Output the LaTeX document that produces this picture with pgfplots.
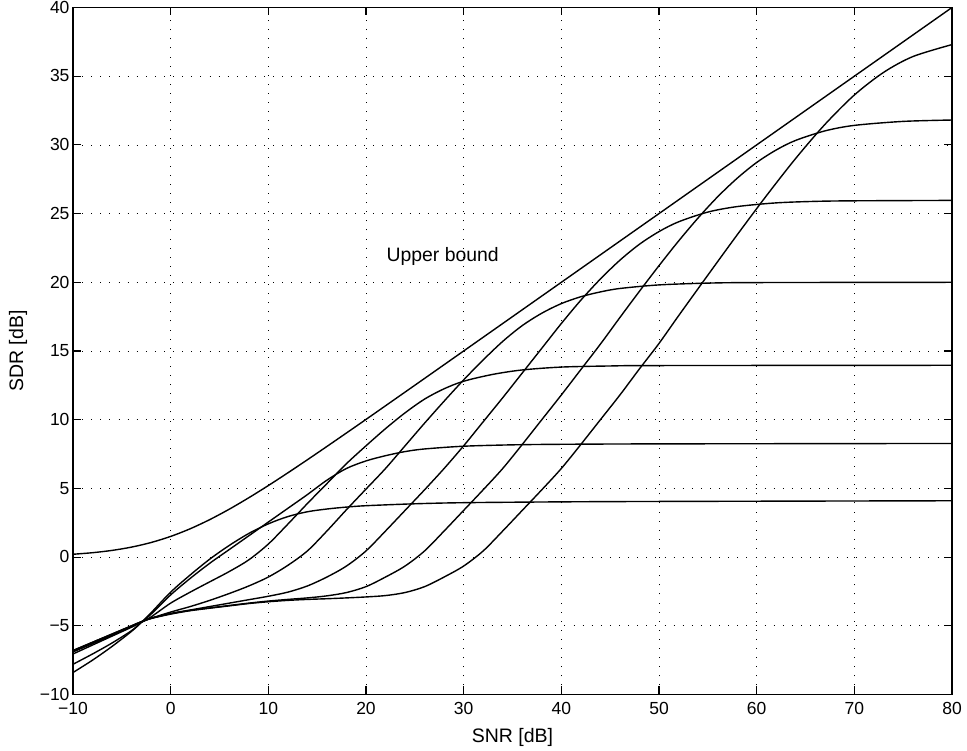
\documentclass[border=0pt]{standalone}
\usepackage{fontspec}
\setmainfont{Liberation Sans}
\usepackage{pgfplots}
\pgfplotsset{compat=1.18}
\begin{document}
\begin{tikzpicture}
\begin{axis}[
  scale only axis, width=879pt, height=687pt,
  xmin=-10, xmax=80, ymin=-10, ymax=40,
  xtick={-10,0,10,20,30,40,50,60,70,80},
  ytick={-10,-5,0,5,10,15,20,25,30,35,40},
  xticklabels={−10,0,10,20,30,40,50,60,70,80},
  yticklabels={−10,−5,0,5,10,15,20,25,30,35,40},
  tick align=inside, major tick length=8pt,
  grid=major,
  grid style={black, line width=0.75pt, dash pattern=on 0.9pt off 8.2pt},
  axis line style={line width=1.1pt},
  every tick/.style={black, line width=1.1pt},
  tick label style={font=\fontsize{17.5}{18}\selectfont},
  xticklabel style={inner xsep=0pt, inner ysep=3pt, yshift=-5pt},
  yticklabel style={inner ysep=0pt, yshift=0.3pt},
  xlabel={SNR [dB]}, ylabel={SDR [dB]},
  label style={font=\fontsize{19.5}{20}\selectfont, inner sep=0pt},
  xlabel style={at={(axis description cs:0.5,-0.0626)}, anchor=center},
  ylabel style={at={(axis description cs:-0.0626,0.5)}, anchor=center},
  curve/.style={black, solid, line width=1.4pt, mark=none, smooth, tension=0.5},
  clip=true,
]
% Upper bound
\addplot[curve] coordinates {(-10,0.207) (-8,0.320) (-6,0.487) (-4,0.728) (-2,1.062) (0,1.505) (2,2.062) (4,2.728) (6,3.487) (8,4.320) (10,5.207) (12,6.133) (14,7.085) (16,8.054) (18,9.034) (20,10.02) (25,12.507) (30,15.002) (40,20) (50,25) (60,30) (70,35) (80,40)};
% A (sat 4.1)
\addplot[curve] coordinates {(-10,-8.4) (-8,-7.5) (-6,-6.5) (-4,-5.4) (-3,-4.75) (-2,-4.05) (0,-2.55) (2,-1.3) (4,-0.15) (6,0.85) (8,1.72) (10,2.42) (12,2.95) (14,3.3) (16,3.5) (18,3.64) (20,3.74) (25,3.88) (30,3.96) (40,4.02) (50,4.05) (80,4.1)};
% B (sat 8.3)
\addplot[curve] coordinates {(-10,-7.8) (-8,-7.05) (-6,-6.25) (-4,-5.35) (-3,-4.75) (-2,-4.15) (0,-2.75) (2,-1.55) (4,-0.45) (6,0.55) (8,1.55) (10,2.55) (12,3.55) (14,4.55) (16,5.6) (18,6.45) (20,7.0) (22,7.38) (24,7.68) (26,7.87) (30,8.07) (35,8.17) (40,8.21) (50,8.24) (80,8.27)};
% C (sat 14)
\addplot[curve] coordinates {(-10,-7.05) (-8,-6.4) (-6,-5.75) (-4,-5.1) (-3,-4.75) (-2,-4.35) (0,-3.35) (2,-2.55) (4,-1.8) (6,-1.05) (8,-0.2) (10,0.95) (12,2.4) (14,3.9) (16,5.35) (18,6.8) (20,8.1) (22,9.35) (24,10.5) (26,11.5) (28,12.25) (30,12.8) (33,13.3) (36,13.62) (40,13.83) (45,13.91) (50,13.94) (80,13.96)};
% D (sat 20)
\addplot[curve] coordinates {(-10,-6.9) (-8,-6.3) (-6,-5.7) (-4,-5.05) (-3,-4.72) (-2,-4.45) (0,-4.0) (2,-3.6) (4,-3.15) (6,-2.65) (8,-2.1) (10,-1.45) (12,-0.6) (14,0.45) (16,1.9) (18,3.45) (20,4.95) (22,6.45) (24,8.1) (26,9.75) (28,11.35) (30,12.9) (32,14.35) (34,15.7) (36,16.85) (38,17.75) (40,18.45) (42,18.95) (44,19.3) (46,19.55) (50,19.81) (55,19.94) (60,19.98) (80,20.0)};
% E (sat 26)
\addplot[curve] coordinates {(-10,-6.8) (-8,-6.2) (-6,-5.6) (-4,-5.0) (-3,-4.7) (-2,-4.45) (0,-4.1) (2,-3.85) (4,-3.6) (6,-3.35) (8,-3.1) (10,-2.85) (12,-2.55) (14,-2.1) (16,-1.45) (18,-0.65) (20,0.45) (22,1.9) (24,3.4) (26,4.9) (28,6.45) (30,8.1) (32,9.85) (34,11.6) (36,13.4) (38,15.2) (40,17.0) (42,18.7) (44,20.24) (46,21.61) (48,22.77) (50,23.69) (52,24.40) (55,25.11) (58,25.51) (62,25.78) (66,25.89) (70,25.93) (80,25.96)};
% F (sat 31.9)
\addplot[curve] coordinates {(-10,-6.8) (-8,-6.2) (-6,-5.6) (-4,-5.0) (-3,-4.7) (-2,-4.45) (0,-4.12) (2,-3.88) (4,-3.7) (6,-3.52) (8,-3.35) (10,-3.2) (12,-3.08) (14,-2.97) (16,-2.82) (18,-2.58) (20,-2.15) (22,-1.45) (24,-0.65) (26,0.45) (28,1.9) (30,3.4) (32,4.9) (34,6.45) (36,8.2) (38,10.0) (40,11.8) (42,13.65) (44,15.5) (46,17.44) (48,19.35) (50,21.21) (52,23.0) (54,24.68) (56,26.22) (58,27.57) (60,28.72) (62,29.63) (64,30.33) (67,31.02) (70,31.42) (75,31.71) (80,31.81)};
% G (sat 38)
\addplot[curve] coordinates {(-10,-6.85) (-8,-6.25) (-6,-5.65) (-4,-5.02) (-3,-4.72) (-2,-4.47) (0,-4.15) (2,-3.9) (4,-3.72) (6,-3.55) (8,-3.38) (10,-3.25) (12,-3.15) (14,-3.08) (16,-3.03) (18,-2.97) (20,-2.9) (22,-2.8) (24,-2.58) (26,-2.15) (28,-1.45) (30,-0.65) (32,0.45) (34,1.9) (36,3.4) (38,4.9) (40,6.45) (42,8.2) (44,10.0) (46,11.8) (48,13.7) (50,15.55) (52,17.56) (55,20.52) (58,23.45) (61,26.30) (64,29.02) (67,31.50) (70,33.63) (73,35.28) (76,36.43) (80,37.30)};
\node[anchor=base, font=\fontsize{19.4}{20}\selectfont, inner sep=0pt] at (axis cs:27.85,21.52) {Upper bound};
\end{axis}
\pgfresetboundingbox
\path[use as bounding box] ([xshift=-73pt,yshift=-56pt]current axis.south west) rectangle ([xshift=15pt,yshift=7.5pt]current axis.north east);
\end{tikzpicture}
\end{document}
